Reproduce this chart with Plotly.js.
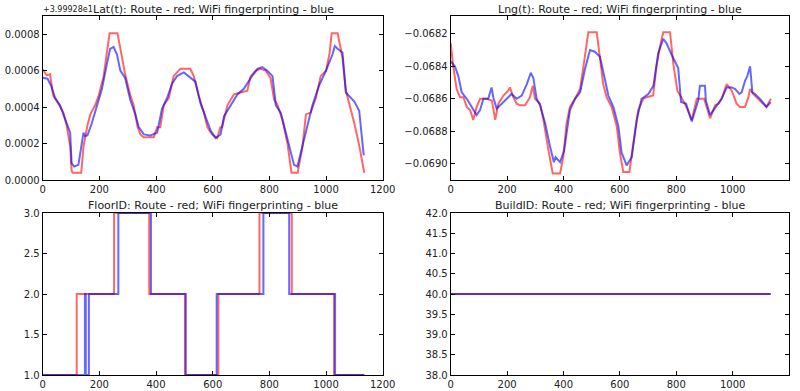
<!DOCTYPE html>
<html>
<head>
<meta charset="utf-8">
<script src="https://cdn.plot.ly/plotly-3.0.1.min.js"></script>
<style>html,body{margin:0;padding:0;background:#fff;}#chart{width:800px;height:391px;}</style>
</head>
<body>
<div id="chart"></div>
<script>
// Latitude (offset from 39.9928)
const latRouteX = [0,14,26,37,56,73,85,97,102,106,136,144,158,168,185,197,215,227,236,264,279,291,310,321,335,345,356,392,404,415,427,445,462,486,521,533,551,569,581,598,616,627,633,652,675,698,722,734,752,769,787,804,817,829,846,864,875,878,900,917,929,946,964,981,1000,1012,1020,1041,1058,1070,1100,1117,1135];
const latRoute = [0.000607,0.000575,0.00058,0.000463,0.000417,0.00037,0.000296,0.000185,0.00005,0.00004,0.00004,0.000185,0.0003,0.00036,0.00041,0.00046,0.00057,0.0007,0.000805,0.000805,0.00067,0.00058,0.00046,0.00041,0.00029,0.00025,0.000235,0.000235,0.00029,0.00029,0.00041,0.00045,0.00057,0.00061,0.00061,0.00057,0.00046,0.00037,0.00029,0.00025,0.00023,0.00029,0.00029,0.00041,0.00047,0.00048,0.00049,0.00057,0.0006,0.00061,0.0006,0.00056,0.00044,0.00041,0.00033,0.0002,0.00005,0.00004,0.00004,0.000185,0.00036,0.00037,0.00045,0.00057,0.0006,0.00069,0.000805,0.000805,0.00067,0.00049,0.00031,0.00019,0.00004];
const latWifiX = [0,17,29,44,61,79,91,97,102,111,126,134,144,150,158,173,191,209,227,238,250,262,274,291,309,327,339,357,380,404,421,439,457,474,498,521,539,557,575,593,610,628,640,663,687,710,734,758,775,793,811,823,840,858,876,887,899,917,935,952,976,1000,1023,1031,1041,1058,1070,1100,1117,1125,1133];
const latWifi = [0.000561,0.000556,0.00052,0.00045,0.00041,0.00034,0.00029,0.00026,0.000093,0.000074,0.000083,0.00016,0.00026,0.00024,0.000245,0.00031,0.0004,0.0005,0.00064,0.00072,0.00073,0.00069,0.0006,0.00056,0.00044,0.00036,0.00029,0.00025,0.000244,0.00026,0.00039,0.00045,0.00053,0.00057,0.00059,0.00056,0.00054,0.00042,0.00034,0.00027,0.00023,0.00025,0.00035,0.00041,0.00047,0.0005,0.00056,0.00061,0.00062,0.0006,0.00057,0.00041,0.00037,0.00026,0.00015,0.000083,0.000074,0.000185,0.00031,0.00041,0.00052,0.0006,0.00069,0.000735,0.00072,0.0007,0.00048,0.00043,0.00038,0.00026,0.000135];

// Longitude
const lngRouteX = [0,9,21,33,45,57,69,80,92,104,128,146,158,169,187,204,210,222,234,246,264,281,291,299,317,329,346,358,362,388,400,411,423,441,459,471,482,488,518,530,541,553,571,589,600,612,634,648,665,683,695,718,730,742,754,778,790,804,813,831,855,873,899,920,938,950,961,979,997,1014,1026,1044,1056,1062,1073,1097,1120,1136];
const lngRoute = [-0.068257,-0.0684,-0.06854,-0.06859,-0.06859,-0.06865,-0.06867,-0.06873,-0.06865,-0.0686,-0.0686,-0.06861,-0.06873,-0.06863,-0.06858,-0.06855,-0.06853,-0.06859,-0.06863,-0.06864,-0.06864,-0.06859,-0.06852,-0.0686,-0.06863,-0.06873,-0.06891,-0.06904,-0.06906,-0.06906,-0.06895,-0.06875,-0.06865,-0.0686,-0.06854,-0.0684,-0.06824,-0.06819,-0.06819,-0.06836,-0.06851,-0.06859,-0.06865,-0.06877,-0.06893,-0.06905,-0.06905,-0.06887,-0.06867,-0.0686,-0.06859,-0.06858,-0.0684,-0.06828,-0.06819,-0.06819,-0.06839,-0.06855,-0.06858,-0.06863,-0.06873,-0.0686,-0.0686,-0.06872,-0.06864,-0.06863,-0.0686,-0.06851,-0.06855,-0.06863,-0.06865,-0.06865,-0.06859,-0.06854,-0.06857,-0.06861,-0.06865,-0.0686];
const lngWifiX = [0,15,27,39,57,74,92,104,116,133,145,151,163,181,198,216,234,252,270,284,293,305,317,335,352,366,372,378,388,402,411,423,441,459,476,494,511,529,547,559,577,595,606,624,642,660,677,701,719,736,754,766,784,807,817,835,855,878,884,902,905,920,944,961,979,997,1009,1024,1032,1044,1052,1062,1070,1079,1097,1120,1135];
const lngWifi = [-0.06837,-0.0684,-0.06846,-0.06856,-0.0686,-0.06865,-0.0687,-0.06867,-0.0686,-0.0686,-0.06853,-0.06859,-0.06866,-0.06863,-0.0686,-0.06857,-0.0686,-0.06858,-0.06851,-0.06844,-0.06847,-0.0686,-0.06864,-0.06875,-0.06889,-0.06899,-0.06896,-0.06897,-0.06899,-0.06892,-0.06881,-0.06867,-0.0686,-0.06856,-0.06842,-0.0683,-0.06831,-0.06834,-0.06848,-0.06858,-0.06865,-0.06877,-0.06893,-0.06901,-0.06896,-0.06873,-0.0686,-0.06857,-0.06852,-0.06832,-0.06823,-0.06826,-0.06833,-0.06841,-0.06862,-0.06863,-0.06874,-0.06861,-0.06852,-0.06852,-0.06861,-0.0687,-0.06864,-0.0686,-0.06853,-0.06853,-0.06854,-0.06857,-0.06856,-0.06849,-0.06846,-0.0684,-0.06856,-0.06857,-0.0686,-0.06865,-0.06862];

// Floor (step changes)
const floorRouteX = [0,120,252,376,502,620,765,879,1028,1135];
const floorRoute = [1,2,3,2,1,2,3,2,1,1];
const floorWifiX = [0,149,152,163,267,382,505,614,779,870,1032,1135];
const floorWifi = [1,2,1,2,3,2,1,2,3,2,1,1];

// Building
const buildX = [0,1135];
const buildRoute = [40,40];
const buildWifi = [40,40];

const titles = [
  "Lat(t): Route - red; WiFi fingerprinting - blue",
  "Lng(t): Route - red; WiFi fingerprinting - blue",
  "FloorID: Route - red; WiFi fingerprinting - blue",
  "BuildID: Route - red; WiFi fingerprinting - blue"
];
const offsetText = "+3.99928e1";

const RED = "rgba(255,0,0,0.6)";
const BLUE = "rgba(0,0,255,0.6)";
const FONT = "DejaVu Sans, sans-serif";

function tr(x, y, color, xa, ya, shape) {
  return {x: x, y: y, type: "scatter", mode: "lines", xaxis: xa, yaxis: ya,
    line: {color: color, width: 2, shape: shape || "linear"}, hoverinfo: "skip", showlegend: false};
}

const data = [
  tr(latRouteX, latRoute, RED, "x", "y"),
  tr(latWifiX, latWifi, BLUE, "x", "y"),
  tr(lngRouteX, lngRoute, RED, "x2", "y2"),
  tr(lngWifiX, lngWifi, BLUE, "x2", "y2"),
  tr(floorRouteX, floorRoute, RED, "x3", "y3", "hv"),
  tr(floorWifiX, floorWifi, BLUE, "x3", "y3", "hv"),
  tr(buildX, buildRoute, RED, "x4", "y4"),
  tr(buildX, buildWifi, BLUE, "x4", "y4")
];

const W = 800, H = 391;
const colL = [42.7/W, 382.7/W];
const colR = [450.7/W, 789/W];
const rowT = [(H-180)/H, (H-16)/H];
const rowB = [(H-375)/H, (H-213)/H];

function ax(domain, anchor, range, dtick, fmt, tick0) {
  const a = {domain: domain, anchor: anchor, range: range, dtick: dtick, tickformat: fmt,
    tickmode: "linear", showgrid: false, zeroline: false, showline: true, mirror: "ticks",
    linecolor: "#000", linewidth: 1, ticks: "inside", ticklen: 4, tickcolor: "#000",
    tickfont: {family: FONT, size: 10, color: "#222"}, fixedrange: true};
  if (tick0 !== undefined) a.tick0 = tick0;
  return a;
}

const layout = {
  width: W, height: H,
  margin: {l: 0, r: 0, t: 0, b: 0},
  paper_bgcolor: "#fff", plot_bgcolor: "#fff",
  font: {family: FONT, color: "#222"},
  xaxis: ax(colL, "y", [0, 1200], 200, "d", 0),
  yaxis: ax(rowT, "x", [0, 0.0009], 0.0002, ".4f", 0),
  xaxis2: ax(colR, "y2", [0, 1200], 200, "d", 0),
  yaxis2: ax(rowT, "x2", [-0.0691, -0.06809], 0.0002, ".4f", -0.069),
  xaxis3: ax(colL, "y3", [0, 1200], 200, "d", 0),
  yaxis3: ax(rowB, "x3", [1, 3], 0.5, ".1f", 1),
  xaxis4: ax(colR, "y4", [0, 1200], 200, "d", 0),
  yaxis4: ax(rowB, "x4", [38, 42], 0.5, ".1f", 38),
  annotations: [
    {text: titles[0], xref: "paper", yref: "paper", x: (colL[0]+colL[1])/2 + 1/W, y: (H-10)/H, xanchor: "center", yanchor: "middle", showarrow: false, font: {family: FONT, size: 11, color: "#222"}},
    {text: titles[1], xref: "paper", yref: "paper", x: (colR[0]+colR[1])/2, y: (H-10)/H, xanchor: "center", yanchor: "middle", showarrow: false, font: {family: FONT, size: 11, color: "#222"}},
    {text: titles[2], xref: "paper", yref: "paper", x: (colL[0]+colL[1])/2, y: (H-205.5)/H, xanchor: "center", yanchor: "middle", showarrow: false, font: {family: FONT, size: 11, color: "#222"}},
    {text: titles[3], xref: "paper", yref: "paper", x: (colR[0]+colR[1])/2, y: (H-205.5)/H, xanchor: "center", yanchor: "middle", showarrow: false, font: {family: FONT, size: 11, color: "#222"}},
    {text: offsetText, xref: "paper", yref: "paper", x: 41/W, y: (H-10)/H, xanchor: "left", yanchor: "middle", showarrow: false, font: {family: FONT, size: 8, color: "#222"}}
  ]
};

Plotly.newPlot("chart", data, layout, {staticPlot: true, displayModeBar: false});
</script>
</body>
</html>
